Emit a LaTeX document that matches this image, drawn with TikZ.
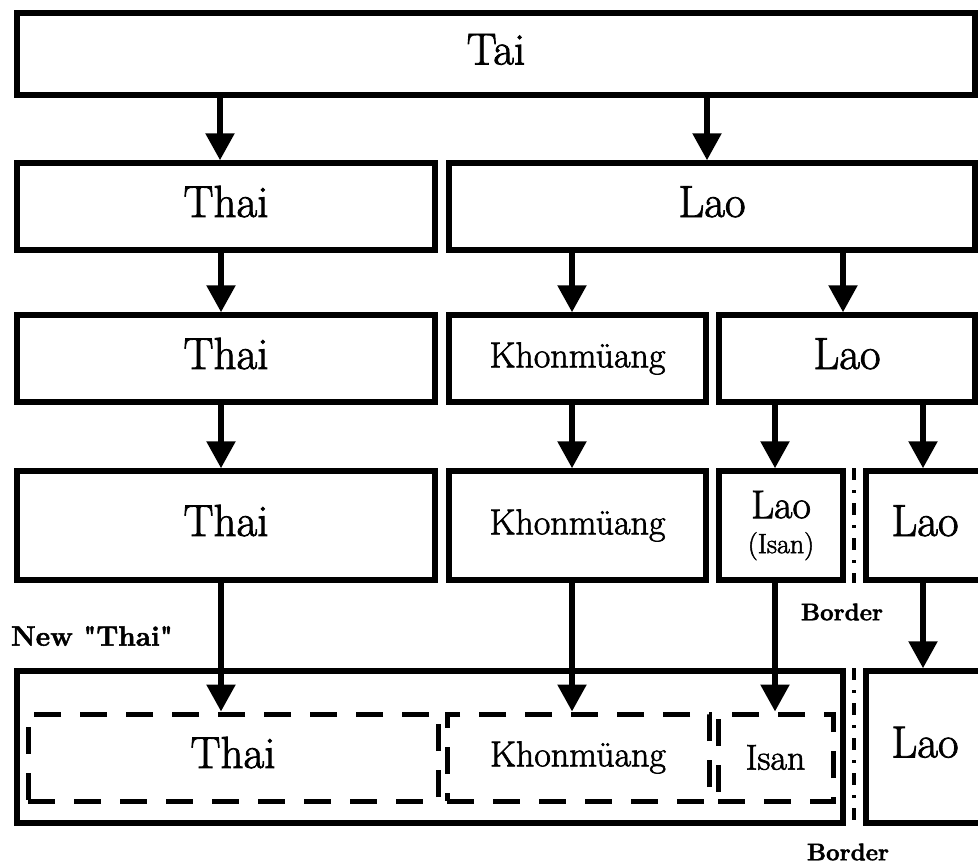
\documentclass[tikz,border=0pt]{standalone}
\usepackage{fontspec}
\setmainfont{Latin Modern Roman}[FakeBold=1.8]
\usetikzlibrary{arrows.meta}
\tikzset{
  box/.style={draw, line width=5.5pt, rectangle, inner sep=0pt, align=center},
  dbox/.style={draw, line width=5pt, dash pattern=on 27pt off 19pt, rectangle, inner sep=0pt, align=center},
  arr/.style={line width=5.5pt, -{Triangle[length=27pt,width=28pt]}},
  borderline/.style={line width=3.5pt, dash pattern=on 12pt off 10pt on 3pt off 10pt},
  big/.style={font=\fontsize{45}{50}\selectfont, text height=31pt, text depth=10pt},
  mid/.style={font=\fontsize{36}{40}\selectfont},
  lbl/.style={font=\bfseries\fontsize{24}{26}\selectfont, inner sep=0pt}
}
\begin{document}
\begin{tikzpicture}[x=1pt,y=-1pt]
\useasboundingbox (0,0) rectangle (978,868);
% row 1
\node[box,big,minimum width=958pt,minimum height=82pt] (Tai) at (496,54) {Tai};
% row 2
\node[box,big,minimum width=418pt,minimum height=87pt] (Thai2) at (226,206.5) {Thai};
\node[box,big,minimum width=526pt,minimum height=87pt] (Lao2) at (712,206.5) {Lao};
% row 3
\node[box,big,minimum width=418pt,minimum height=87pt] (Thai3) at (226,358.5) {Thai};
\node[box,mid,minimum width=257pt,minimum height=87pt] (Khon3) at (577.5,358.5) {Khonmüang};
\node[box,big,minimum width=256pt,minimum height=87pt] (Lao3) at (847,358.5) {Lao};
% row 4
\node[box,big,minimum width=418pt,minimum height=109pt] (Thai4) at (226,525.5) {Thai};
\node[box,mid,minimum width=257pt,minimum height=109pt] (Khon4) at (577.5,525.5) {Khonmüang};
\node[box,font=\fontsize{28}{35}\selectfont,minimum width=124pt,minimum height=109pt] (LaoIsan4) at (781,525.5)
  {{\fontsize{40}{35}\selectfont Lao}\\(Isan)};
\node[box,big,minimum width=118pt,minimum height=109pt] (Lao4R) at (925,525.5) {Lao};
% row 5
\node[box,minimum width=826pt,minimum height=152pt] (Big5) at (430,747) {};
\node[box,big,minimum width=118pt,minimum height=152pt] (Lao5R) at (925,747) {Lao};
\node[dbox,big,minimum width=410pt,minimum height=87pt] (ThaiD) at (233,757.5) {Thai};
\node[dbox,mid,minimum width=262pt,minimum height=87pt] (KhonD) at (578,757.5) {Khonmüang};
\node[dbox,mid,minimum width=115pt,minimum height=87pt] (IsanD) at (775.5,757.5) {Isan};
% labels
\node[lbl, font=\bfseries\fontsize{28}{30}\selectfont] (NewThai) at (92,636) {\addfontfeatures{Ligatures=TeXOff}New "Thai"};
\node[lbl] (Border1) at (842,612) {Border};
\node[lbl] (Border2) at (848,852) {Border};
% arrow columns
\coordinate (cA) at (220,0);
\coordinate (cB) at (707,0);
\coordinate (cT) at (221,0);
\coordinate (cK) at (572,0);
\coordinate (cL) at (843,0);
\coordinate (cI) at (775,0);
\coordinate (cR) at (923,0);
\coordinate (bx) at (854,0);
% arrows
\draw[arr] (Tai.south -| cA) -- (Thai2.north -| cA);
\draw[arr] (Tai.south -| cB) -- (Lao2.north -| cB);
\draw[arr] (Thai2.south -| cT) -- (Thai3.north -| cT);
\draw[arr] (Lao2.south -| cK) -- (Khon3.north -| cK);
\draw[arr] (Lao2.south -| cL) -- (Lao3.north -| cL);
\draw[arr] (Thai3.south -| cT) -- (Thai4.north -| cT);
\draw[arr] (Khon3.south -| cK) -- (Khon4.north -| cK);
\draw[arr] (Lao3.south -| cI) -- (LaoIsan4.north -| cI);
\draw[arr] (Lao3.south -| cR) -- (Lao4R.north -| cR);
\draw[arr] (Thai4.south -| cT) -- (ThaiD.north -| cT);
\draw[arr] (Khon4.south -| cK) -- (KhonD.north -| cK);
\draw[arr] (LaoIsan4.south -| cI) -- (IsanD.north -| cI);
\draw[arr] (Lao4R.south -| cR) -- (Lao5R.north -| cR);
% borders
\draw[borderline] (bx |- Lao4R.north) -- (bx |- Lao4R.south);
\draw[borderline] (bx |- Lao5R.north) -- (bx |- Lao5R.south);
\end{tikzpicture}
\end{document}
